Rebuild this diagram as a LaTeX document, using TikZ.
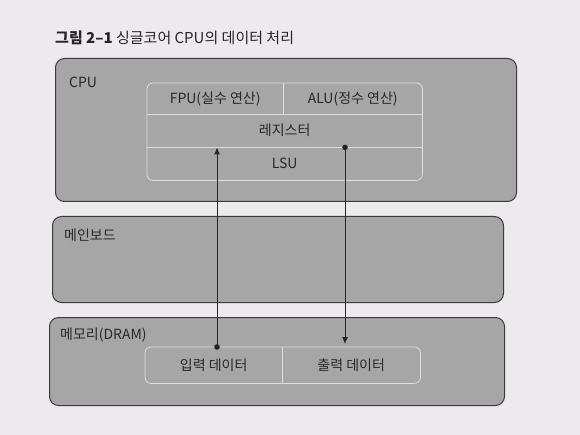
\documentclass[tikz,border=0pt]{standalone}
\usepackage{fontspec}
\setmainfont{Noto Sans CJK KR}
\usetikzlibrary{arrows.meta}
\definecolor{paper}{RGB}{236,234,236}
\definecolor{boxfill}{RGB}{166,166,166}
\definecolor{boxline}{RGB}{60,60,60}
\definecolor{innerline}{RGB}{222,222,222}
\definecolor{txt}{RGB}{40,40,40}
\begin{document}
\begin{tikzpicture}[x=1pt,y=-1pt,
  outerbox/.style={draw=boxline, line width=1pt, fill=boxfill, rounded corners=9pt, inner sep=0pt},
  cell/.style={inner sep=0pt, text=txt, font=\fontsize{14}{16}\selectfont},
  grid/.style={draw=innerline, line width=0.8pt},
  boxlabel/.style={inner sep=0pt, anchor=west, text=txt, font=\fontsize{14}{16}\selectfont},
  arr/.style={draw=black!85, line width=1pt, -{Latex[length=7pt,width=6pt]}},
  dot/.style={fill=black!85}
]
\useasboundingbox (0,0) rectangle (580,435);
\fill[paper] (0,0) rectangle (580,435);

% title
\node[anchor=west, inner sep=0pt, text=black!85, font=\fontsize{15}{17}\selectfont] (title) at (55,38)
  {\textbf{그림 2–1} 싱글코어 CPU의 데이터 처리};

% outer boxes
\node[outerbox, anchor=north west, minimum width=461pt, minimum height=143pt] (cpu) at (55,58) {};
\node[outerbox, anchor=north west, minimum width=451pt, minimum height=86pt] (board) at (52,216) {};
\node[outerbox, anchor=north west, minimum width=455pt, minimum height=88pt] (mem) at (49,317) {};

\node[boxlabel] (cpulabel) at (69,82) {CPU};
\node[boxlabel] (boardlabel) at (64,235) {메인보드};
\node[boxlabel] (memlabel) at (60,335) {메모리(DRAM)};

% CPU internals
\node[cell, anchor=north west, minimum width=136pt, minimum height=31pt] (fpu) at (147,83) {FPU(실수 연산)};
\node[cell, anchor=north west, minimum width=139pt, minimum height=31pt] (alu) at (283,83) {ALU(정수 연산)};
\node[cell, anchor=north west, minimum width=275pt, minimum height=33pt] (reg) at (147,114) {레지스터};
\node[cell, anchor=north west, minimum width=275pt, minimum height=33pt] (lsu) at (147,147) {LSU};
\draw[grid, rounded corners=6pt] (fpu.north west) rectangle (lsu.south east);
\draw[grid] (fpu.south west) -- (alu.south east);
\draw[grid] (reg.south west) -- (reg.south east);
\draw[grid] (fpu.north east) -- (fpu.south east);

% memory internals
\node[cell, anchor=north west, minimum width=137pt, minimum height=36pt] (indata) at (145,347) {입력 데이터};
\node[cell, anchor=north west, minimum width=138pt, minimum height=36pt] (outdata) at (282,347) {출력 데이터};
\draw[grid, rounded corners=6pt] (indata.north west) rectangle (outdata.south east);
\draw[grid] (indata.north east) -- (indata.south east);

% arrows
\coordinate (lx) at (217,0);
\coordinate (rx) at (345,0);
\draw[arr] (indata.north -| lx) -- (reg.south -| lx);
\fill[dot] (indata.north -| lx) circle (2.8pt);
\draw[arr] (reg.south -| rx) -- ([yshift=3pt]outdata.north -| rx);
\fill[dot] (reg.south -| rx) circle (2.8pt);
\end{tikzpicture}
\end{document}
